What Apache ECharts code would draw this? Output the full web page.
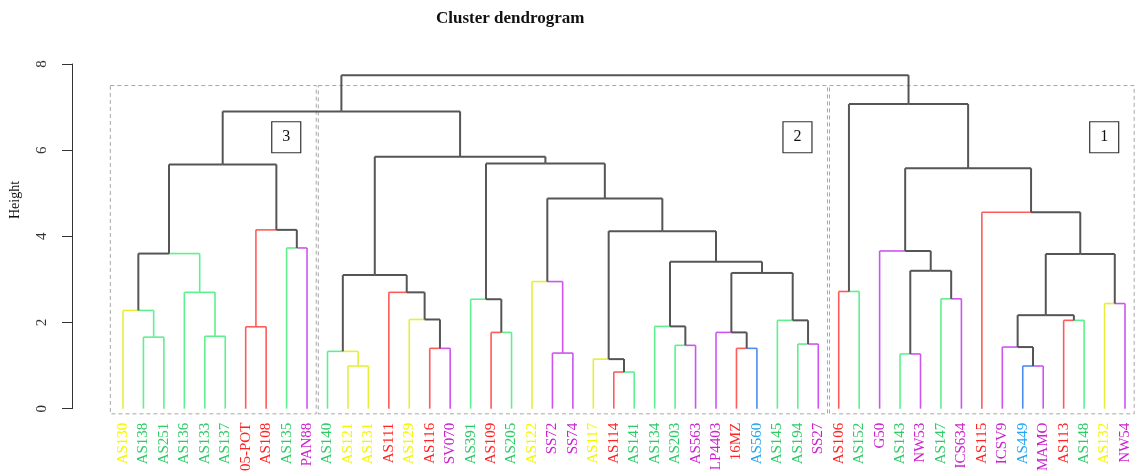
<!DOCTYPE html>
<html>
<head>
<meta charset="utf-8">
<script src="https://cdn.jsdelivr.net/npm/echarts@6/dist/echarts.min.js"></script>
<style>html,body{margin:0;padding:0;background:#fff}#c{width:1139px;height:474px}</style>
</head>
<body>
<div id="c"></div>
<script>
// ---------- data ----------
const leaves = ["AS130","AS138","AS251","AS136","AS133","AS137","05-POT","AS108","AS135","PAN88",
  "AS140","AS121","AS131","AS111","AS129","AS116","SV070","AS391","AS109","AS205",
  "AS122","SS72","SS74","AS117","AS114","AS141","AS134","AS203","AS563","LP4403",
  "16MZ","AS560","AS145","AS194","SS27","AS106","AS152","G50","AS143","NW53",
  "AS147","ICS634","AS115","ICSV9","AS449","MAMO","AS113","AS148","AS132","NW54"];
const leafGroups = ["Y","G","G","G","G","G","R","R","G","M",
  "G","Y","Y","R","Y","R","M","G","R","G",
  "Y","M","M","Y","R","G","G","G","M","M",
  "R","B","G","G","M","R","G","M","G","M",
  "G","M","R","M","B","M","R","G","Y","M"];
// [childA, childB, height]; strings = leaf labels, numbers = earlier merge index
const merges = [
  ["AS138","AS251",1.66],[ "AS130",0,2.28],["AS133","AS137",1.68],["AS136",2,2.70],[1,3,3.60],
  ["05-POT","AS108",1.90],["AS135","PAN88",3.73],[5,6,4.15],[4,7,5.67],
  ["AS121","AS131",0.99],["AS140",9,1.33],["AS116","SV070",1.40],["AS129",11,2.07],["AS111",12,2.70],[10,13,3.10],
  ["AS109","AS205",1.77],["AS391",15,2.54],["SS72","SS74",1.29],["AS122",17,2.95],
  ["AS114","AS141",0.85],["AS117",19,1.15],["AS203","AS563",1.47],["AS134",21,1.91],
  ["16MZ","AS560",1.40],["LP4403",23,1.77],["AS194","SS27",1.50],["AS145",25,2.05],
  [24,26,3.15],[22,27,3.41],[20,28,4.12],[18,29,4.88],[16,30,5.69],[14,31,5.85],[8,32,6.90],
  ["AS106","AS152",2.72],["AS143","NW53",1.27],["AS147","ICS634",2.55],[35,36,3.20],["G50",37,3.66],
  ["AS449","MAMO",0.99],["ICSV9",39,1.43],["AS113","AS148",2.05],[40,41,2.17],["AS132","NW54",2.44],
  [42,43,3.59],["AS115",44,4.56],[38,45,5.58],[34,46,7.07],[33,47,7.74]
];
const clusterIds = ["3","2","1"];
const clusterFirst = [0,10,35];
const clusterLast = [9,34,49];
const yTicks = [0,2,4,6,8];

// ---------- styles ----------
const lineColors = {Y:"#e6ee3a",G:"#5ef08e",R:"#ff5a5a",M:"#cc55f0",B:"#4a8cf0",X:"#555555"};
const textColors = {Y:"#f6f600",G:"#2ccc66",R:"#ff2424",M:"#cc22cc",B:"#22a6f0"};

// ---------- build segments ----------
const nodes = [];
function nodeOf(ref){
  if (typeof ref === "string"){ const i = leaves.indexOf(ref); return {x:i, h:0, g:leafGroups[i]}; }
  return nodes[ref];
}
const segs = [];
merges.forEach(m => {
  const a = nodeOf(m[0]), b = nodeOf(m[1]), h = m[2];
  const x = (a.x + b.x) / 2;
  [a,b].forEach(c => {
    segs.push([c.x, c.h, c.x, h, c.g]);
    segs.push([c.x, h, x, h, c.g]);
  });
  nodes.push({x:x, h:h, g: (a.g === b.g) ? a.g : "X"});
});

const chart = echarts.init(document.getElementById('c'), null, {renderer:'canvas'});
const serif = "'Liberation Serif','DejaVu Serif',serif";

chart.setOption({
  animation:false,
  backgroundColor:'#fff',
  grid:{left:123,right:14,top:64,bottom:63},
  xAxis:{type:'value',min:0,max:leaves.length-1,interval:1,
    axisLine:{show:false},axisTick:{show:false},splitLine:{show:false},
    axisLabel:{rotate:90,margin:14,fontFamily:serif,fontSize:15,
      formatter:v=>leaves[Math.round(v)],
      color:(v)=>textColors[leafGroups[Math.round(Number(v))]]}},
  yAxis:{type:'value',min:yTicks[0],max:yTicks[yTicks.length-1],interval:2,position:'left',offset:51,
    axisLine:{show:true,onZero:false,lineStyle:{color:'#333',width:1}},
    axisTick:{show:true,length:10,lineStyle:{color:'#333'}},
    splitLine:{show:false},
    axisLabel:{rotate:90,margin:22,fontFamily:serif,fontSize:15,color:'#333'}},
  graphic:[
    {type:'text',left:436,top:10,style:{text:'Cluster dendrogram',font:"bold 17px "+serif,fill:'#111'}},
    {type:'text',x:15,y:200,rotation:Math.PI/2,style:{text:'Height',font:"14px "+serif,fill:'#111',textAlign:'center',textVerticalAlign:'middle'}}
  ],
  series:[
    {type:'custom',coordinateSystem:'cartesian2d',clip:false,z:1,
      data:clusterIds.map((id,i)=>[clusterFirst[i],clusterLast[i]]),
      encode:{x:[0,1]},
      renderItem:(params,api)=>{
        const i = params.dataIndex;
        const p1 = api.coord([clusterFirst[i]-(i===0?0.62:0.45),-0.12]);
        const p2 = api.coord([clusterLast[i]+0.45,7.5]);
        const bx = p2[0]-30, by = api.coord([0,6.3])[1];
        return {type:'group',children:[
          {type:'rect',shape:{x:p1[0],y:p2[1],width:p2[0]-p1[0],height:p1[1]-p2[1]},
            style:{fill:'none',stroke:'#a8a8a8',lineWidth:1,lineDash:[4,3]}},
          {type:'rect',shape:{x:bx-14.5,y:by-15.5,width:29,height:31},
            style:{fill:'#fff',stroke:'#333',lineWidth:1.2}},
          {type:'text',x:bx,y:by,style:{text:clusterIds[i],font:"16px "+serif,fill:'#111',textAlign:'center',textVerticalAlign:'middle'}}
        ]};
      }},
    {type:'custom',coordinateSystem:'cartesian2d',clip:false,z:2,
      data:segs.map(s=>[s[0],s[1],s[2],s[3]]),
      encode:{x:[0,2],y:[1,3]},
      renderItem:(params,api)=>{
        const s = segs[params.dataIndex];
        const p1 = api.coord([s[0],s[1]]), p2 = api.coord([s[2],s[3]]);
        const grey = s[4]==="X";
        return {type:'line',shape:{x1:p1[0],y1:p1[1],x2:p2[0],y2:p2[1]},
          style:{stroke:lineColors[s[4]],lineWidth:grey?2:1.6,lineCap:'butt'}};
      }}
  ]
});
</script>
</body>
</html>
